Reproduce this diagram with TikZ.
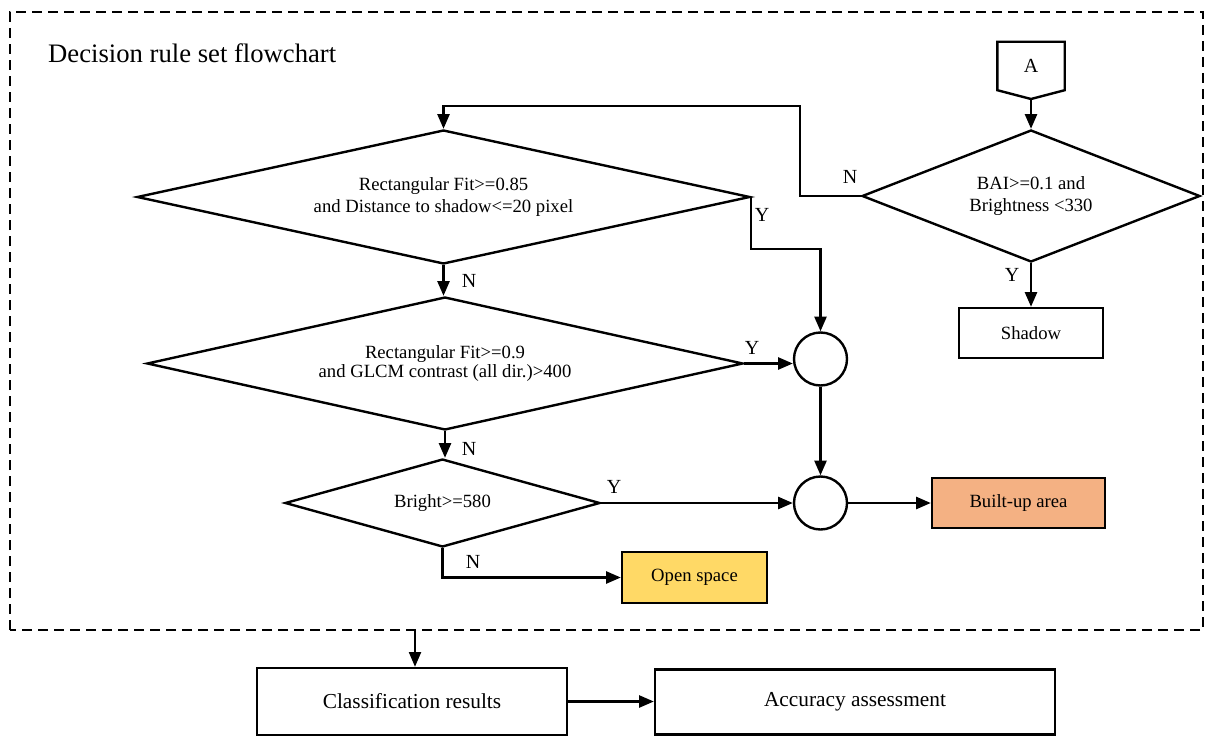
\documentclass[tikz,border=0pt]{standalone}
\usepackage{fontspec}
\setmainfont{Liberation Serif}
\usetikzlibrary{shapes.geometric,arrows.meta}
\begin{document}
\begin{tikzpicture}[x=0.75pt,y=-0.75pt,
  line width=1.8pt,
  arr/.style={-{Triangle[length=11pt,width=9pt]}},
  dia/.style={draw,shape=diamond,inner sep=0pt,align=center,font=\fontsize{14}{16.5}\selectfont},
  box/.style={draw,rectangle,inner sep=0pt,align=center,font=\fontsize{14}{16.5}\selectfont},
  big/.style={draw,rectangle,inner sep=0pt,align=center,font=\fontsize{16}{19}\selectfont},
  junc/.style={draw,circle,inner sep=0pt,minimum size=39.75pt,fill=white},
  lbl/.style={inner sep=0pt,font=\fontsize{15}{18}\selectfont},
  frame/.style={line width=1.6pt,dash pattern=on 7.5pt off 4.5pt}
]
\useasboundingbox (0,0) rectangle (1205,738);
% dashed frame
\draw[frame] (10,630) -- (10,12) -- (1203,12) -- (1203,630) -- cycle;
\node[anchor=west,inner sep=0pt,font=\fontsize{20}{24}\selectfont] (title) at (47,53) {Decision rule set flowchart};

% connector A
\node[inner sep=0pt,minimum width=48.75pt,minimum height=34.5pt,font=\fontsize{15}{18}\selectfont] (A) at (1031,66) {A};
\coordinate (Ap) at (1031,99);
\draw (A.south west) -- (A.north west) -- (A.north east) -- (A.south east) -- (Ap) -- cycle;

% decision diamonds
\node[dia,aspect=2.56,minimum width=253.5pt,minimum height=99pt] (bai) at (1031,196) {BAI>=0.1 and\\Brightness <330};
\node[dia,aspect=4.57,minimum width=459.75pt,minimum height=100.5pt] (d1) at (443.5,197) {Rectangular Fit>=0.85\\and Distance to shadow<=20 pixel};
\node[dia,aspect=4.48,minimum width=447pt,minimum height=99.75pt,font=\fontsize{14}{14.5}\selectfont] (d2) at (445,363.5) {Rectangular Fit>=0.9\\and GLCM contrast (all dir.)>400};
\node[dia,aspect=3.58,minimum width=236.25pt,minimum height=66pt] (d3) at (442.5,503) {Bright>=580};

% junctions
\node[junc] (c1) at (820.5,359) {};
\node[junc] (c2) at (820.5,503) {};

% result boxes
\node[box,minimum width=108pt,minimum height=37.5pt] (shadow) at (1031,333) {Shadow};
\node[box,fill={rgb,255:red,255;green,217;blue,102},minimum width=108.75pt,minimum height=38.25pt] (open) at (694.5,577.5) {Open space};
\node[box,fill={rgb,255:red,244;green,177;blue,131},minimum width=129.75pt,minimum height=37.5pt] (built) at (1018.5,503) {Built-up area};

\node[big,minimum width=232.5pt,minimum height=50.25pt] (cls) at (412,701.5) {Classification results};
\node[big,minimum width=300pt,minimum height=48.75pt] (acc) at (855,702) {Accuracy assessment};

% connectors
\draw[arr] (Ap) -- (bai.north);
\draw[arr] (bai.south) -- (shadow.north);
\node[lbl] (ybai) at (1012,275) {Y};

\coordinate (nturn) at (800,106);
\draw[arr] (bai.west) -| (nturn) -| (d1.north);
\node[lbl] (nbai) at (850,177) {N};

\draw[arr] (d1.east) -- ++(0,52) -| (c1.north);
\node[lbl] (yd1) at (762,215) {Y};

\draw[arr] (d1.south) -- (d1.south |- d2.north);
\node[lbl] (nd1) at (469,281) {N};

\draw[arr] (d2.east) -- (d2.east -| c1.west);
\node[lbl] (yd2) at (752,348) {Y};

\draw[arr] (d2.south) -- (d2.south |- d3.north);
\node[lbl] (nd2) at (469,449) {N};

\draw[arr] (c1.south) -- (c2.north);

\draw[arr] (d3.east) -- (c2.west);
\node[lbl] (yd3) at (614,487) {Y};

\draw[arr] (d3.south) |- (open.west);
\node[lbl] (nd3) at (473,562) {N};

\draw[arr] (c2.east) -- (built.west);

\coordinate (dl) at (415,630);
\draw[arr,line width=1.4pt] (dl) -- (dl |- cls.north);
\draw[arr] (cls.east) -- (cls.east -| acc.west);
\end{tikzpicture}
\end{document}
